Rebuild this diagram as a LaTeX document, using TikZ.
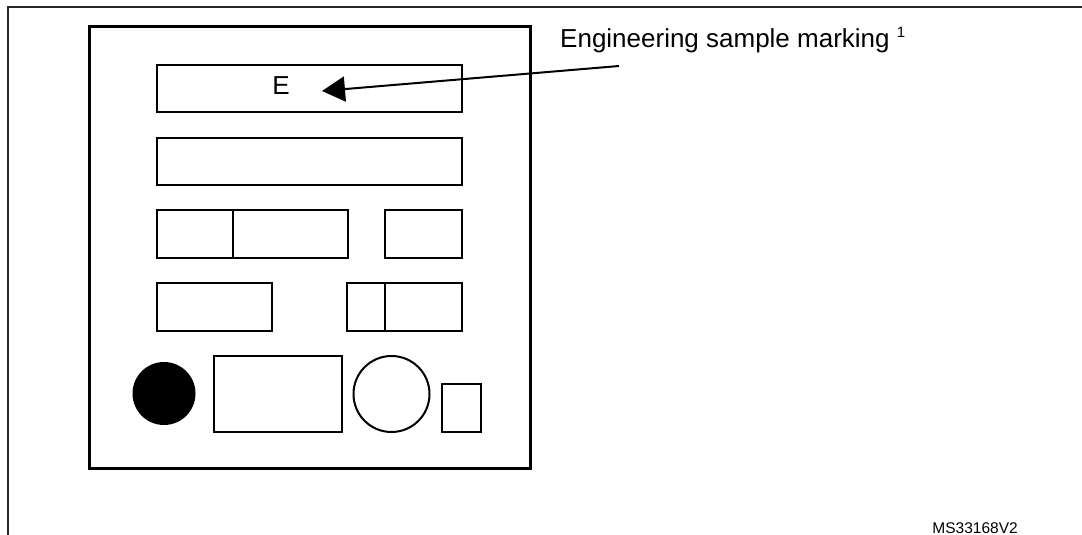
\documentclass[tikz,border=0pt]{standalone}
\usepackage{fontspec}
\setmainfont{Liberation Sans}
\usetikzlibrary{arrows.meta}
\begin{document}
\begin{tikzpicture}[
            x=1pt,
            y=-1pt,
            chipline/.style={line width=3pt},
            markline/.style={line width=2pt},
            labeltext/.style={font=\fontsize{26}{30}\selectfont, inner sep=0pt}
        ]
        \useasboundingbox (0,0) rectangle (1082,535);
        \draw[line width=1.3pt, black!85] (8,535) -- (8,7) -- (1082,7);

        \draw[chipline] (89,27) rectangle (530,468);
        \draw[markline] (157,65) rectangle (462,112);
        \draw[markline] (157,138) rectangle (462,185);
        \draw[markline] (157,210) rectangle (348,258);
        \draw[markline] (233,210) -- (233,258);
        \draw[markline] (385,210) rectangle (462,258);
        \draw[markline] (157,283) rectangle (272,331);
        \draw[markline] (347,283) rectangle (462,331);
        \draw[markline] (385,283) -- (385,331);
        \fill (164,393.5) circle[radius=31.5pt];
        \draw[markline] (214,356) rectangle (342,432);
        \draw[markline] (391.5,394) circle[radius=38pt];
        \draw[markline] (442,384) rectangle (481,432);

        \node[labeltext, anchor=base] (emark) at (281,95) {E};
        \node[labeltext, anchor=base west] (eslabel) at (560,48)
            {Engineering sample marking {\fontsize{15}{18}\selectfont\raisebox{10pt}{1}}};
        \coordinate (leaderend) at (619,66);
        \coordinate (leadertip) at (322,91);
        \draw[line width=2pt, -{Triangle[length=23pt,width=25pt]}] (leaderend) -- (leadertip);

        \node[anchor=base east, font=\fontsize{15.5}{18}\selectfont, inner sep=0pt] (figid) at (1018,533) {MS33168V2};
    \end{tikzpicture}
\end{document}
